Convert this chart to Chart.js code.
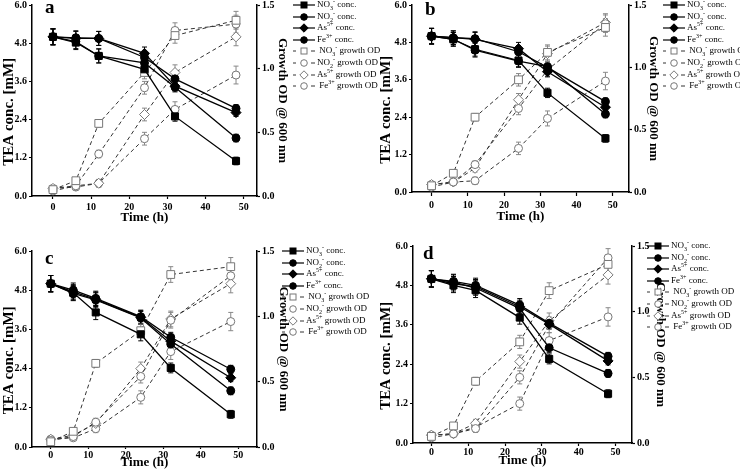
<!DOCTYPE html>
<html>
<head>
<title>TEA reduction and growth</title>
<script src="https://cdn.jsdelivr.net/npm/chart.js@4.4.1/dist/chart.umd.min.js"></script>
<style>
    body { margin:0; background:#fff; width:740px; height:473px; position:relative; overflow:hidden; font-family:"Liberation Serif", serif; }
    canvas { position:absolute; }
    .tag { position:absolute; font:bold 19px/19px "Liberation Serif", serif; }
    .legend { position:absolute; font-size:9px; white-space:nowrap; color:#000; }
    .legend div { height:11.6px; line-height:11.6px; }
    .legend svg { vertical-align:middle; margin-right:1px; }
    sub, sup { font-size:6px; line-height:0; }
</style>
</head>
<body>
<canvas id="pa"></canvas>
<canvas id="pb"></canvas>
<canvas id="pc"></canvas>
<canvas id="pd"></canvas>
<div class="tag" style="left:45px;top:-3px">a</div>
<div class="tag" style="left:425px;top:-1px">b</div>
<div class="tag" style="left:45px;top:248px">c</div>
<div class="tag" style="left:423px;top:243px">d</div>
<div class="legend" id="la" style="left:292px;top:-1px"></div>
<div class="legend" id="lb" style="left:662px;top:-1px"></div>
<div class="legend" id="lc" style="left:281px;top:245px"></div>
<div class="legend" id="ld" style="left:646px;top:240px"></div>
<script>
    // sampling times (h)
    const times = [0, 6, 12, 24, 32, 48];

    // panel a
    const no3ConcA = [5.0, 4.82, 4.40, 3.98, 2.50, 1.10];
    const no2ConcA = [5.0, 4.85, 4.40, 4.18, 3.42, 1.82];
    const asConcA  = [5.0, 4.95, 4.95, 4.48, 3.45, 2.62];
    const feConcA  = [5.0, 4.97, 4.95, 4.35, 3.68, 2.75];
    const no3OdA = [0.05, 0.12, 0.57, 0.97, 1.26, 1.38];
    const no2OdA = [0.04, 0.08, 0.33, 0.85, 1.30, 1.35];
    const asOdA  = [0.06, 0.08, 0.10, 0.64, 0.97, 1.25];
    const feOdA  = [0.06, 0.07, 0.10, 0.45, 0.68, 0.95];

    // panel b
    const no3ConcB = [5.0, 4.90, 4.58, 4.22, 3.18, 1.72];
    const no2ConcB = [5.0, 4.90, 4.55, 4.20, 4.02, 2.50];
    const asConcB  = [5.0, 4.95, 4.90, 4.60, 3.86, 2.72];
    const feConcB  = [5.0, 4.95, 4.92, 4.50, 4.00, 2.90];
    const no3OdB = [0.05, 0.15, 0.60, 0.90, 1.12, 1.32];
    const no2OdB = [0.04, 0.08, 0.22, 0.67, 0.98, 1.35];
    const asOdB  = [0.06, 0.08, 0.19, 0.74, 1.11, 1.36];
    const feOdB  = [0.06, 0.08, 0.09, 0.35, 0.59, 0.89];

    // panel c
    const no3ConcC = [5.0, 4.72, 4.12, 3.45, 2.42, 1.00];
    const no2ConcC = [5.0, 4.70, 4.50, 3.95, 3.15, 1.72];
    const asConcC  = [5.0, 4.75, 4.52, 3.97, 3.24, 2.12];
    const feConcC  = [5.0, 4.80, 4.55, 3.99, 3.36, 2.38];
    const no3OdC = [0.04, 0.12, 0.64, 0.89, 1.32, 1.38];
    const no2OdC = [0.05, 0.08, 0.19, 0.54, 0.97, 1.31];
    const asOdC  = [0.06, 0.09, 0.18, 0.60, 0.98, 1.25];
    const feOdC  = [0.06, 0.07, 0.14, 0.38, 0.73, 0.96];

    // panel d
    const no3ConcD = [5.0, 4.80, 4.65, 3.82, 2.56, 1.50];
    const no2ConcD = [5.0, 4.90, 4.72, 4.10, 2.90, 2.12];
    const asConcD  = [5.0, 4.85, 4.76, 4.15, 3.62, 2.50];
    const feConcD  = [5.0, 4.92, 4.80, 4.20, 3.65, 2.64];
    const no3OdD = [0.05, 0.13, 0.47, 0.77, 1.16, 1.36];
    const no2OdD = [0.04, 0.07, 0.11, 0.50, 0.90, 1.41];
    const asOdD  = [0.06, 0.07, 0.15, 0.62, 0.93, 1.28];
    const feOdD  = [0.06, 0.07, 0.12, 0.30, 0.78, 0.96];

    // error bars
    const concErr = [0.25, 0.22, 0.22, 0.20, 0.15, 0.12];
    const odErr = [0.02, 0.02, 0.03, 0.05, 0.06, 0.07];

    const xTicks = [0, 10, 20, 30, 40, 50];
    const leftTicks = [0, 1.2, 2.4, 3.6, 4.8, 6.0];
    const rightTicks = [0, 0.5, 1.0, 1.5];

    const serif = '"Liberation Serif", "Times New Roman", serif';
    const nb = '\u00a0';

    // draws vertical error bars behind the markers
    const errorBars = {
        id: 'errorBars',
        beforeDatasetsDraw(chart) {
            const ctx = chart.ctx;
            chart.data.datasets.forEach(function (ds, i) {
                const meta = chart.getDatasetMeta(i);
                const ys = chart.scales[ds.yAxisID];
                ctx.save();
                ctx.strokeStyle = ds.errColor;
                ctx.lineWidth = 1;
                meta.data.forEach(function (pt, j) {
                    const v = ds.data[j].y, e = ds.err[j];
                    const t = ys.getPixelForValue(v + e), b = ys.getPixelForValue(v - e);
                    ctx.beginPath();
                    ctx.moveTo(pt.x, t); ctx.lineTo(pt.x, b);
                    ctx.moveTo(pt.x - 2.5, t); ctx.lineTo(pt.x + 2.5, t);
                    ctx.moveTo(pt.x - 2.5, b); ctx.lineTo(pt.x + 2.5, b);
                    ctx.stroke();
                });
                ctx.restore();
            });
        }
    };

    function pts(vals) {
        return vals.map(function (v, i) { return {x: times[i], y: v}; });
    }

    function fixed(list) {
        return function (s) { s.ticks = list.map(function (v) { return {value: v}; }); };
    }

    function concSet(vals, style, r) {
        return {
            data: pts(vals), yAxisID: 'y', err: concErr, errColor: '#000',
            borderColor: '#000', borderWidth: 1.3, backgroundColor: '#000',
            pointStyle: style, pointRadius: r, pointBorderWidth: 1, tension: 0
        };
    }

    function odSet(vals, style, r) {
        return {
            data: pts(vals), yAxisID: 'y2', err: odErr, errColor: '#888',
            borderColor: '#333', borderWidth: 1, borderDash: [4, 3],
            pointBorderColor: '#777', pointBackgroundColor: '#fff',
            pointStyle: style, pointRadius: r, pointBorderWidth: 1, tension: 0
        };
    }

    function axisBase(tl) {
        return {
            border: {display: true, color: '#000', width: 1.5},
            grid: {drawOnChartArea: false, drawTicks: true, tickLength: tl, tickColor: '#000', tickWidth: 1.2}
        };
    }

    // g: geometry of one panel (page coords)
    function makePanel(id, g, conc, od) {
        const cv = document.getElementById(id);
        const H = g.h + 8;
        cv.width = 370; cv.height = H;
        cv.style.left = g.px + 'px';
        cv.style.top = (g.py - 8) + 'px';

        const x = axisBase(g.tl);
        x.type = 'linear'; x.min = g.xmin; x.max = g.xmax;
        x.afterFit = function (s) { s.height = g.hx; };
        x.afterBuildTicks = fixed(xTicks);
        x.ticks = {color: '#000', padding: g.tp, maxRotation: 0, autoSkip: false,
            font: {family: serif, size: 10, weight: 'bold'}};
        x.title = {display: true, text: 'Time (h)', color: '#000', padding: 0,
            font: {family: serif, size: 13, weight: 'bold'}};

        const y = axisBase(3);
        y.position = 'left'; y.min = 0; y.max = 6;
        y.afterFit = function (s) { s.width = g.lw; };
        y.afterBuildTicks = fixed(leftTicks);
        y.ticks = {color: '#000', padding: 2, callback: function (v) { return v.toFixed(1); },
            font: {family: serif, size: 10, weight: 'bold'}};
        y.title = {display: true, text: 'TEA conc. [mM]' + nb.repeat(6), color: '#000', padding: 0,
            font: {family: serif, size: 15, weight: 'bold'}};

        const y2 = axisBase(3);
        y2.position = 'right'; y2.min = 0; y2.max = 1.5;
        y2.afterFit = function (s) { s.width = g.rw; };
        y2.afterBuildTicks = fixed(rightTicks);
        y2.ticks = {color: '#000', padding: 2, callback: function (v) { return v.toFixed(1); },
            font: {family: serif, size: 10, weight: 'bold'}};
        y2.title = {display: true, text: 'Growth OD @ 600 nm', color: '#000', padding: 0,
            font: {family: serif, size: 13, weight: 'bold'}};

        new Chart(cv, {
            type: 'line',
            data: {
                datasets: [
                    concSet(conc[0], 'rect', 5),
                    concSet(conc[1], 'circle', 4),
                    concSet(conc[2], 'rectRot', 5),
                    concSet(conc[3], 'circle', 4),
                    odSet(od[0], 'rect', 5.5),
                    odSet(od[1], 'circle', 4),
                    odSet(od[2], 'rectRot', 5),
                    odSet(od[3], 'circle', 4)
                ]
            },
            options: {
                responsive: false,
                animation: false,
                devicePixelRatio: 1,
                layout: {padding: {left: g.pl, top: g.t + 8, right: 370 - g.r - g.rw, bottom: g.h - g.b - g.hx}},
                plugins: {legend: {display: false}, tooltip: {enabled: false}},
                scales: {x: x, y: y, y2: y2}
            },
            plugins: [errorBars]
        });
    }

    function sym(style, filled) {
        const f = filled ? '#000' : '#fff', s = filled ? '#000' : '#777';
        if (style === 'rect') return '<rect x="9" y="2" width="6" height="6" fill="' + f + '" stroke="' + s + '"/>';
        if (style === 'rectRot') return '<polygon points="12,0.8 16.2,5 12,9.2 7.8,5" fill="' + f + '" stroke="' + s + '"/>';
        return '<circle cx="12" cy="5" r="3.3" fill="' + f + '" stroke="' + s + '"/>';
    }

    function makeLegend(id) {
        const names = ['NO<sub>3</sub><sup>-</sup>', 'NO<sub>2</sub><sup>-</sup>', 'As<sup>5+</sup>', 'Fe<sup>3+</sup>'];
        const styles = ['rect', 'circle', 'rectRot', 'circle'];
        let html = '';
        names.forEach(function (n, i) {
            html += '<div><svg width="24" height="10"><line x1="1" y1="5" x2="23" y2="5" stroke="#000" stroke-width="1.2"/>' +
                sym(styles[i], true) + '</svg>' + n + ' conc.</div>';
        });
        names.forEach(function (n, i) {
            html += '<div><svg width="24" height="10"><line x1="1" y1="5" x2="4" y2="5" stroke="#333"/><line x1="19" y1="5" x2="23" y2="5" stroke="#333"/>' +
                sym(styles[i], false) + '</svg>' + (i === 1 || i === 2 ? '' : ' ') + n + ' growth OD</div>';
        });
        document.getElementById(id).innerHTML = html;
    }

    makePanel('pa', {px: 0, py: 0, h: 236, t: 5, b: 196, r: 257, pl: 0, lw: 32, rw: 33, hx: 29, tl: 3, tp: 2, xmin: -5.5, xmax: 53.5},
        [no3ConcA, no2ConcA, asConcA, feConcA], [no3OdA, no2OdA, asOdA, feOdA]);
    makePanel('pb', {px: 370, py: 0, h: 236, t: 5, b: 192, r: 259, pl: 7, lw: 35, rw: 32, hx: 32, tl: 4, tp: 3, xmin: -5.4, xmax: 54.5},
        [no3ConcB, no2ConcB, asConcB, feConcB], [no3OdB, no2OdB, asOdB, feOdB]);
    makePanel('pc', {px: 0, py: 236, h: 237, t: 15, b: 211, r: 257, pl: 0, lw: 32, rw: 34, hx: 23, tl: 2, tp: 0, xmin: -5, xmax: 55},
        [no3ConcC, no2ConcC, asConcC, feConcC], [no3OdC, no2OdC, asOdC, feOdC]);
    makePanel('pd', {px: 370, py: 236, h: 237, t: 10, b: 207, r: 262, pl: 7, lw: 36, rw: 36, hx: 25, tl: 3, tp: 0, xmin: -5, xmax: 54.5},
        [no3ConcD, no2ConcD, asConcD, feConcD], [no3OdD, no2OdD, asOdD, feOdD]);

    ['la', 'lb', 'lc', 'ld'].forEach(makeLegend);
</script>
</body>
</html>
